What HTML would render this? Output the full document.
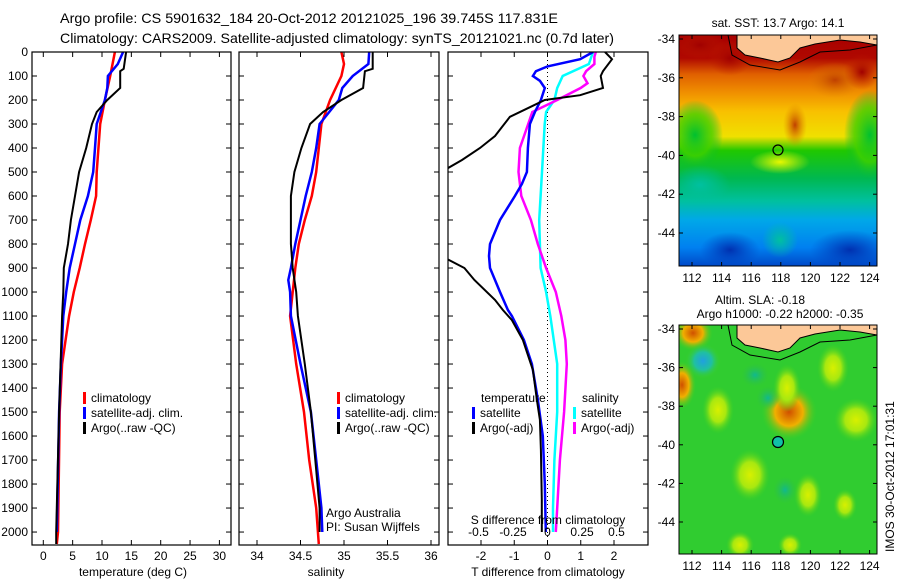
<!DOCTYPE html>
<html><head><meta charset="utf-8"><style>
html,body{margin:0;padding:0;background:#fff;}
svg{display:block;font-family:"Liberation Sans",sans-serif;}
</style></head><body>
<svg id="fig" width="900" height="580" viewBox="0 0 900 580">
<defs>
<linearGradient id="sstg" x1="0" y1="0" x2="0" y2="1">
<stop offset="0" stop-color="#a80000"/><stop offset="0.1" stop-color="#b00800"/>
<stop offset="0.17" stop-color="#e06000"/><stop offset="0.25" stop-color="#f09000"/>
<stop offset="0.33" stop-color="#f8c000"/><stop offset="0.44" stop-color="#f0e000"/>
<stop offset="0.5" stop-color="#20c800"/><stop offset="0.62" stop-color="#00b850"/>
<stop offset="0.72" stop-color="#00c0a0"/><stop offset="0.8" stop-color="#00a8e8"/>
<stop offset="0.92" stop-color="#0080f0"/><stop offset="1" stop-color="#0048c8"/>
</linearGradient>
<radialGradient id="bOr"><stop offset="0" stop-color="#d05000"/><stop offset="0.5" stop-color="#f0b000"/><stop offset="1" stop-color="#40d020" stop-opacity="0"/></radialGradient>
<radialGradient id="bYe"><stop offset="0" stop-color="#d8f000"/><stop offset="0.5" stop-color="#a8e810"/><stop offset="1" stop-color="#40d020" stop-opacity="0"/></radialGradient>
<radialGradient id="bCy"><stop offset="0" stop-color="#20a0e0"/><stop offset="0.5" stop-color="#20c0a0"/><stop offset="1" stop-color="#40d020" stop-opacity="0"/></radialGradient>
<radialGradient id="bTe"><stop offset="0" stop-color="#10b890"/><stop offset="1" stop-color="#30c040" stop-opacity="0"/></radialGradient>
<radialGradient id="sOr"><stop offset="0" stop-color="#c04000"/><stop offset="1" stop-color="#e08000" stop-opacity="0"/></radialGradient>
<radialGradient id="sRe"><stop offset="0" stop-color="#a00000"/><stop offset="1" stop-color="#c02000" stop-opacity="0"/></radialGradient>
<radialGradient id="sGr"><stop offset="0" stop-color="#00c030"/><stop offset="0.6" stop-color="#40d000" stop-opacity="0.8"/><stop offset="1" stop-color="#00b840" stop-opacity="0"/></radialGradient>
<radialGradient id="sYe"><stop offset="0" stop-color="#e8f800"/><stop offset="1" stop-color="#e8f800" stop-opacity="0"/></radialGradient>
<radialGradient id="sBl"><stop offset="0" stop-color="#0030b0"/><stop offset="1" stop-color="#0040c0" stop-opacity="0"/></radialGradient>
<radialGradient id="sTe"><stop offset="0" stop-color="#00c0a0"/><stop offset="1" stop-color="#00c0a0" stop-opacity="0"/></radialGradient>
<clipPath id="c1"><rect x="32" y="52" width="199" height="493"/></clipPath>
<clipPath id="c2"><rect x="239" y="52" width="200" height="493"/></clipPath>
<clipPath id="c3"><rect x="448" y="52" width="200" height="493"/></clipPath>
<clipPath id="cm1"><rect x="679" y="35" width="198" height="231"/></clipPath>
<clipPath id="cm2"><rect x="679" y="325" width="198" height="229"/></clipPath>
</defs>
<text x="60" y="23" font-size="14" textLength="498" lengthAdjust="spacingAndGlyphs">Argo profile: CS 5901632_184 20-Oct-2012 20121025_196 39.745S 117.831E</text>
<text x="60" y="43" font-size="14" textLength="554" lengthAdjust="spacingAndGlyphs">Climatology: CARS2009. Satellite-adjusted climatology: synTS_20121021.nc (0.7d later)</text>
<g id="g1"></g><g id="g2"></g><g id="g3"></g>

<!-- SST map -->
<g clip-path="url(#cm1)">
<rect x="679" y="35" width="198" height="231" fill="url(#sstg)"/>
<ellipse cx="700" cy="45" rx="25" ry="14" fill="url(#sRe)"/>
<ellipse cx="730" cy="58" rx="22" ry="18" fill="url(#sRe)"/>
<ellipse cx="835" cy="80" rx="28" ry="18" fill="url(#sOr)"/>
<ellipse cx="862" cy="72" rx="18" ry="18" fill="url(#sRe)"/>
<ellipse cx="795" cy="125" rx="12" ry="22" fill="url(#sOr)"/>
<ellipse cx="695" cy="135" rx="28" ry="35" fill="url(#sGr)"/>
<ellipse cx="870" cy="135" rx="26" ry="45" fill="url(#sGr)"/>
<ellipse cx="780" cy="162" rx="30" ry="12" fill="url(#sYe)"/>
<ellipse cx="700" cy="185" rx="30" ry="20" fill="url(#sTe)"/>
<ellipse cx="730" cy="250" rx="30" ry="18" fill="url(#sBl)"/>
<ellipse cx="850" cy="250" rx="40" ry="20" fill="url(#sBl)"/>
<ellipse cx="780" cy="240" rx="18" ry="18" fill="url(#sTe)"/>
<path d="M737 35 L737 48 L745 55 L760 58 L778 62 L790 58 L800 48 L815 44 L840 40 L860 42 L877 45 L877 35 Z" fill="#fcc898" stroke="#000" stroke-width="1"/>
<path d="M728 35 L732 55 L750 65 L780 70 L800 62 L820 52 L850 50 L877 45" fill="none" stroke="#000" stroke-width="1"/>
<circle cx="778" cy="150" r="5" fill="none" stroke="#000" stroke-width="1.2"/>
</g>
<rect x="679" y="35" width="198" height="231" fill="none" stroke="#000"/>
<text x="778" y="27" font-size="12" text-anchor="middle">sat. SST: 13.7 Argo: 14.1</text>

<!-- SLA map -->
<g clip-path="url(#cm2)">
<rect x="679" y="325" width="198" height="229" fill="#30cc30"/>
<ellipse cx="693" cy="333" rx="20" ry="18" fill="url(#bOr)"/>
<ellipse cx="703" cy="361" rx="18" ry="18" fill="url(#bCy)"/>
<ellipse cx="682" cy="385" rx="14" ry="24" fill="url(#bOr)"/>
<ellipse cx="789" cy="412" rx="28" ry="28" fill="url(#bOr)"/>
<ellipse cx="787" cy="388" rx="14" ry="24" fill="url(#bYe)"/>
<ellipse cx="718" cy="410" rx="16" ry="24" fill="url(#bYe)"/>
<ellipse cx="833" cy="368" rx="16" ry="24" fill="url(#bYe)"/>
<ellipse cx="856" cy="420" rx="22" ry="22" fill="url(#bYe)"/>
<ellipse cx="750" cy="475" rx="20" ry="26" fill="url(#bYe)"/>
<ellipse cx="808" cy="495" rx="14" ry="22" fill="url(#bYe)"/>
<ellipse cx="845" cy="505" rx="12" ry="16" fill="url(#bYe)"/>
<ellipse cx="755" cy="375" rx="14" ry="12" fill="url(#bTe)"/>
<ellipse cx="768" cy="398" rx="12" ry="12" fill="url(#bTe)"/>
<ellipse cx="785" cy="490" rx="12" ry="14" fill="url(#bTe)"/>
<ellipse cx="740" cy="545" rx="14" ry="14" fill="url(#bYe)"/>
<ellipse cx="790" cy="545" rx="12" ry="12" fill="url(#bYe)"/>
<path d="M737 325 L737 338 L745 345 L760 348 L778 352 L790 348 L800 338 L815 334 L840 330 L860 332 L877 335 L877 325 Z" fill="#fcc898" stroke="#000" stroke-width="1"/>
<path d="M728 325 L732 345 L750 355 L780 360 L800 352 L820 342 L850 340 L877 335" fill="none" stroke="#000" stroke-width="1"/>
<circle cx="778" cy="442" r="5.5" fill="#10c0a8" stroke="#000" stroke-width="1.2"/>
</g>
<rect x="679" y="325" width="198" height="229" fill="none" stroke="#000"/>
<text x="760" y="304" font-size="12" text-anchor="middle">Altim. SLA: -0.18</text>
<text x="780" y="318" font-size="12" text-anchor="middle">Argo h1000: -0.22 h2000: -0.35</text>
<text transform="translate(894,552) rotate(-90)" font-size="12">IMOS 30-Oct-2012 17:01:31</text>
<g id="mapaxes"></g>
</svg>
<script>
// ---- data ----
const depthTick = [0,100,200,300,400,500,600,700,800,900,1000,1100,1200,1300,1400,1500,1600,1700,1800,1900,2000];
const tTicks = [0,5,10,15,20,25,30];
const sTicks = [34,34.5,35,35.5,36];
const dTTicks = [-2,-1,0,1,2];
const dSTicks = [-0.5,-0.25,0,0.25,0.5];
const dSTickLabels = ["-0.5","-0.25","0","0.25","0.5"];
const lonTicks = [112,114,116,118,120,122,124];
const latTicks = [-34,-36,-38,-40,-42,-44];

const tClimD = [0,100,200,300,500,600,700,800,900,1000,1100,1300,1500,2000,2050];
const tClimV = [12.2,11.4,10.5,9.7,9.1,9.0,8.1,7.1,6.2,5.2,4.4,3.2,2.8,2.5,2.3];
const tSatD = [0,50,100,150,200,300,400,500,600,700,800,900,1000,1100,1300,1500,2000];
const tSatV = [13.6,12.7,11.0,10.9,10.5,9.1,8.8,8.5,7.6,6.3,5.4,4.5,3.9,3.4,3.0,2.7,2.3];
const tArgoD = [0,70,80,150,200,250,300,400,500,600,700,800,900,1000,1100,1500,2000,2050];
const tArgoV = [14.1,13.7,13.1,13.1,10.9,9.1,8.3,7.3,6.1,5.4,4.7,4.2,3.5,3.4,3.2,2.7,2.2,2.2];

const sClimD = [0,50,100,200,300,400,500,600,700,800,900,1000,1100,1300,1500,1700,1900,2050];
const sClimV = [34.97,35.0,34.97,34.84,34.74,34.71,34.68,34.63,34.55,34.48,34.44,34.41,34.38,34.45,34.54,34.6,34.68,34.71];
const sSatD = [0,50,100,150,200,300,400,500,600,700,800,900,950,1000,1100,1300,1500,1700,1900,2000];
const sSatV = [35.29,35.28,35.1,34.98,34.94,34.72,34.68,34.63,34.56,34.5,34.44,34.39,34.36,34.38,34.39,34.5,34.62,34.68,34.74,34.75];
const sArgoD = [0,70,80,150,200,250,300,400,500,600,700,800,900,1000,1100,1300,1500,1700,1900,2000];
const sArgoV = [35.33,35.33,35.24,35.22,34.97,34.76,34.61,34.51,34.43,34.39,34.39,34.39,34.41,34.45,34.47,34.55,34.62,34.67,34.72,34.72];

const dTSatD = [0,30,60,80,100,120,150,200,250,300,400,500,550,600,700,800,850,900,1000,1075,1100,1200,1300,1450,1600,1800,2000];
const dTSatV = [1.37,0.98,0,-0.35,-0.44,-0.23,-0.08,-0.2,-0.38,-0.53,-0.59,-0.62,-0.77,-0.98,-1.43,-1.73,-1.76,-1.73,-1.43,-1.19,-1.07,-0.71,-0.47,-0.29,-0.14,-0.08,-0.05];
const dTArgoD = [0,30,80,100,150,180,200,230,270,350,400,450,500,850,900,950,1033,1075,1117,1200,1325,1450,1533,1658,1867,2000];
const dTArgoV = [1.73,1.94,1.67,1.6,1.67,0.98,-0.08,-0.53,-1.13,-1.58,-2.03,-2.57,-3.2,-3.2,-2.5,-2.2,-1.58,-1.34,-1.07,-0.74,-0.44,-0.32,-0.23,-0.2,-0.17,-0.17];
const dSSatD = [0,50,100,150,200,250,300,500,700,900,1000,1100,1300,1500,1700,1900,2000];
const dSSatV = [0.33,0.3,0.11,0.07,0.05,-0.01,-0.02,-0.04,-0.06,-0.05,-0.01,0.02,0.07,0.07,0.05,0.04,0.04];
const dSArgoD = [0,20,50,80,100,130,150,200,250,300,400,500,600,700,800,900,1000,1100,1200,1300,1500,1700,1900,2000];
const dSArgoV = [0.35,0.34,0.34,0.28,0.26,0.29,0.24,0.07,-0.11,-0.14,-0.2,-0.21,-0.19,-0.12,-0.07,-0.01,0.06,0.1,0.13,0.14,0.12,0.09,0.07,0.06];

// ---- axes ----
const NS = 'http://www.w3.org/2000/svg';
const Y0 = 52, Y1 = 545, DMAX = 2054;
const yD = d => Y0 + d * (Y1 - Y0) / DMAX;
const xT = t => 43.3 + t * 5.87;
const xS = s => 257 + (s - 34) * 87;
const xDT = v => 547.5 + v * 33.25;
const xDS = v => 547.5 + v * 138;
const xLon = l => 692 + (l - 112) * 14.8;
const yLat1 = l => 39 + (-34 - l) * 19.4;
const yLat2 = l => 329 + (-34 - l) * 19.3;

function mk(tag, attrs, parent) {
  const e = document.createElementNS(NS, tag);
  for (const k in attrs) e.setAttribute(k, attrs[k]);
  parent.appendChild(e);
  return e;
}
function txt(parent, x, y, s, anchor, size) {
  const e = mk('text', {x: x, y: y, 'font-size': size || 12, 'text-anchor': anchor || 'middle'}, parent);
  e.textContent = s;
  return e;
}
function line(parent, xs, ds, fx, color, w, name) {
  const pts = xs.map((v, i) => fx(v).toFixed(1) + ',' + yD(ds[i]).toFixed(1)).join(' ');
  const p = mk('polyline', {points: pts, fill: 'none', stroke: color, 'stroke-width': w}, parent);
  
  
  return p;
}
function frame(g, x0, x1, xt, fx, labels, name) {
  const r = mk('rect', {x: x0, y: Y0, width: x1 - x0, height: Y1 - Y0, fill: 'none', stroke: '#000', 'stroke-width': 1.2}, g);
  
  
  depthTick.forEach(d => {
    mk('line', {x1: x0, x2: x0 + 5, y1: yD(d), y2: yD(d), stroke: '#000'}, g);
    mk('line', {x1: x1 - 5, x2: x1, y1: yD(d), y2: yD(d), stroke: '#000'}, g);
  });
  xt.forEach((t, i) => {
    mk('line', {x1: fx(t), x2: fx(t), y1: Y0, y2: Y0 + 5, stroke: '#000'}, g);
    mk('line', {x1: fx(t), x2: fx(t), y1: Y1 - 5, y2: Y1, stroke: '#000'}, g);
    if (labels) {
      const e = txt(g, fx(t), 560, labels[i]);
      
      
    }
  });
}
function legend(g, x, y, items) {
  items.forEach((it, i) => {
    const yy = y + i * 15;
    mk('rect', {x: x, y: yy - 10, width: 3, height: 12, fill: it[0]}, g);
    const e = txt(g, x + 8, yy, it[1], 'start');
    
    
  });
}

// panel 1
const g1 = document.getElementById('g1');


depthTick.forEach(d => {
  const e = txt(g1, 28, yD(d) + 4, String(d), 'end');
  
  
});
const c1 = mk('g', {'clip-path': 'url(#c1)'}, g1);
line(c1, tClimV, tClimD, xT, '#ff0000', 2.5, 'temp-climatology-line');
line(c1, tSatV, tSatD, xT, '#0000ff', 2.5, 'temp-satellite-line');
line(c1, tArgoV, tArgoD, xT, '#000000', 2, 'temp-argo-line');
frame(g1, 32, 231, tTicks, xT, tTicks.map(String), 'temperature');
let e = txt(g1, 133, 576, 'temperature (deg C)');


legend(g1, 83, 402, [['#ff0000','climatology'],['#0000ff','satellite-adj. clim.'],['#000','Argo(..raw -QC)']]);

// panel 2
const g2 = document.getElementById('g2');


const c2 = mk('g', {'clip-path': 'url(#c2)'}, g2);
line(c2, sClimV, sClimD, xS, '#ff0000', 2.5, 'sal-climatology-line');
line(c2, sSatV, sSatD, xS, '#0000ff', 2.5, 'sal-satellite-line');
line(c2, sArgoV, sArgoD, xS, '#000000', 2, 'sal-argo-line');
frame(g2, 239, 439, sTicks, xS, sTicks.map(String), 'salinity');
e = txt(g2, 326, 576, 'salinity');


legend(g2, 337, 402, [['#ff0000','climatology'],['#0000ff','satellite-adj. clim.'],['#000','Argo(..raw -QC)']]);
e = txt(g2, 326, 517, 'Argo Australia', 'start');


e = txt(g2, 326, 531, 'PI: Susan Wijffels', 'start');



// panel 3
const g3 = document.getElementById('g3');


mk('line', {x1: xDT(0), x2: xDT(0), y1: Y0, y2: Y1, stroke: '#000', 'stroke-dasharray': '1,3'}, g3);
const c3 = mk('g', {'clip-path': 'url(#c3)'}, g3);
line(c3, dSSatV, dSSatD, xDS, '#00ffff', 2.5, 'sdiff-satellite-line');
line(c3, dSArgoV, dSArgoD, xDS, '#ff00ff', 2.5, 'sdiff-argo-line');
line(c3, dTSatV, dTSatD, xDT, '#0000ff', 2.5, 'tdiff-satellite-line');
line(c3, dTArgoV, dTArgoD, xDT, '#000000', 2, 'tdiff-argo-line');
frame(g3, 448, 648, dTTicks, xDT, dTTicks.map(String), 'tdiff');
dSTicks.forEach((v, i) => {
  const t = txt(g3, xDS(v), 536, dSTickLabels[i]);
  
  
});
e = txt(g3, 548, 524, 'S difference from climatology');


e = txt(g3, 548, 576, 'T difference from climatology');


e = txt(g3, 481, 402, 'temperature', 'start');


e = txt(g3, 582, 402, 'salinity', 'start');


legend(g3, 472, 417, [['#0000ff','satellite'],['#000','Argo(-adj)']]);
legend(g3, 573, 417, [['#00ffff','satellite'],['#ff00ff','Argo(-adj)']]);

// map axes
const ma = document.getElementById('mapaxes');
[[35, 266, yLat1], [325, 554, yLat2]].forEach(m => {
  lonTicks.forEach(l => {
    mk('line', {x1: xLon(l), x2: xLon(l), y1: m[0], y2: m[0] + 4, stroke: '#000'}, ma);
    mk('line', {x1: xLon(l), x2: xLon(l), y1: m[1] - 4, y2: m[1], stroke: '#000'}, ma);
    const t = txt(ma, xLon(l), m[1] + 16, String(l));
    
    
  });
  latTicks.forEach(l => {
    mk('line', {x1: 679, x2: 683, y1: m[2](l), y2: m[2](l), stroke: '#000'}, ma);
    mk('line', {x1: 873, x2: 877, y1: m[2](l), y2: m[2](l), stroke: '#000'}, ma);
    const t = txt(ma, 675, m[2](l) + 4, String(l), 'end');
    
    
  });
});
</script>
</body></html>
